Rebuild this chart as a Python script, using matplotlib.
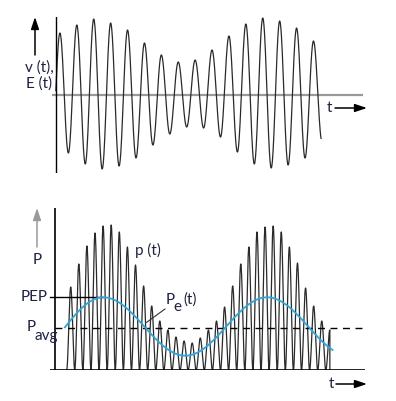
import numpy as np
import matplotlib.pyplot as plt

#---------------------------------------------------------------------------------------
# values (arbitrary units)

# v(t): one extremum per half carrier cycle, peak / trough alternating
# (first and last entries are the troughs just outside the drawn part)
v_extrema = [-60, 62, -58, 70, -69, 76, -74, 72, -71, 65, -63, 52, -50, 40, -39, 33, -32,
             35, -33, 45, -42, 59, -57, 71, -69, 77, -73, 74, -70, 67, -63, 54, -46]
v_start, v_end = 0.0, 15.7      # carrier cycles

# p(t): one peak per half carrier cycle, troughs touch zero, last peak is cut off
p_peaks = [83, 106, 124, 137, 144, 145, 138, 123, 105, 84, 64, 49, 40, 33, 29, 27,
           32, 40, 49, 63, 84, 106, 123, 138, 143, 144, 138, 123, 107, 82, 64, 49, 40]
p_first = 0.97

# envelope power Pe(t): turning points
pe_times = [-2.08, 2.98, 8.04, 13.1, 18.16]
pe_values = [6, 72.7, 14.3, 72.7, 14.3]
pe_start, pe_end = 0.56, 17.18

PEP = 72.7
P_AVG = 41.7

W, H = 396, 401
TXT = '#1c2147'
plt.rcParams['font.family'] = ['Lato', 'DejaVu Sans']


def wave(times, values, t0, t1, n=30):
    # half-cosine strokes between successive turning points
    ts, ys = [], []
    for a, b, ya, yb in zip(times[:-1], times[1:], values[:-1], values[1:]):
        s = np.linspace(0, 1, n)
        ts.append(a + (b - a) * s)
        ys.append(ya + (yb - ya) * (1 - np.cos(np.pi * s)) / 2)
    t = np.concatenate(ts)
    y = np.concatenate(ys)
    keep = (t >= t0 - 1e-9) & (t <= t1 + 1e-9)
    return t[keep], y[keep]


def box(l, t, r, b):
    return [l / W, 1 - b / H, (r - l) / W, (b - t) / H]


def ftext(x, y, s, **kw):
    fig.text(x / W, 1 - y / H, s, color=TXT, fontsize=11, va='center', **kw)


def farrow(x0, y0, x1, y1, color='black'):
    fig.add_artist(plt.matplotlib.patches.FancyArrowPatch(
        (x0 / W, 1 - y0 / H), (x1 / W, 1 - y1 / H), transform=fig.transFigure,
        arrowstyle='-|>,head_length=0.6,head_width=0.2', mutation_scale=12,
        color=color, lw=1.1, shrinkA=0, shrinkB=0))


fig = plt.figure(figsize=(W / 100, H / 100), dpi=100)

#---------------------------------------------------------------------------------------
# top: v(t), E(t)
ax1 = fig.add_axes(box(52, 17, 363, 173))
ax1.set_xlim(-0.219, 18.18)
ax1.set_ylim(-78, 78)
ax1.axis('off')
vt = -0.25 + 0.5 * np.arange(len(v_extrema))
t, v = wave(vt, v_extrema, v_start, v_end)
ax1.plot(t, v, color='#2a2a2a', lw=0.9)
ax1.axhline(0, color='#999999', lw=1.6, zorder=1)
ax1.axvline(0, color='black', lw=1.0)

farrow(35, 55, 35, 17)
ftext(39, 68, 'v (t),', ha='center')
ftext(39, 84, 'E (t)', ha='center')
ftext(329, 108, 't', ha='center')
farrow(335, 108, 367, 108)

#---------------------------------------------------------------------------------------
# bottom: p(t), Pe(t)
ax2 = fig.add_axes(box(50, 208, 365, 370))
ax2.set_xlim(-0.309, 19.14)
ax2.set_ylim(0, 162)
ax2.axis('off')

p_vals = []
for pk in p_peaks:
    p_vals += [0, pk]
pt = p_first - 0.25 + 0.25 * np.arange(len(p_vals))
t, p = wave(pt, p_vals, pt[0], pt[-1])
t = np.append(t, pt[-1])
p = np.append(p, 0)
ax2.plot(t, p, color='#2a2a2a', lw=0.9)

t, pe = wave(pe_times, pe_values, pe_start, pe_end, n=80)
ax2.plot(t, pe, color='#2aa7df', lw=1.3, zorder=4)

ax2.axhline(P_AVG, xmin=0.016, color='black', lw=1.0, dashes=(5, 4))
ax2.plot([-0.309, pe_times[1]], [PEP, PEP], color='black', lw=1.0, clip_on=False)
ax2.axhline(0, color='black', lw=1.2)
ax2.axvline(0, color='black', lw=1.2)
fig.add_artist(plt.Line2D([146.7 / W, 165 / W], [1 - 322.3 / H, 1 - 309 / H],
                          color='#333333', lw=0.8))

farrow(37, 247, 37, 208, color='#9a9a9a')
ftext(37, 260, 'P', ha='center')
ftext(48, 297, 'PEP', ha='right')
ftext(31.5, 327, 'P', ha='center')
ftext(46, 336, 'avg', ha='center')
ftext(148, 250, 'p (t)', ha='center')
ftext(170, 300, 'P', ha='center')
ftext(177.5, 307, 'e', ha='center')
ftext(190.5, 300, '(t)', ha='center')
ftext(331, 384, 't', ha='center')
farrow(336, 384, 367, 384)

fig.savefig('out.png', dpi=100)
